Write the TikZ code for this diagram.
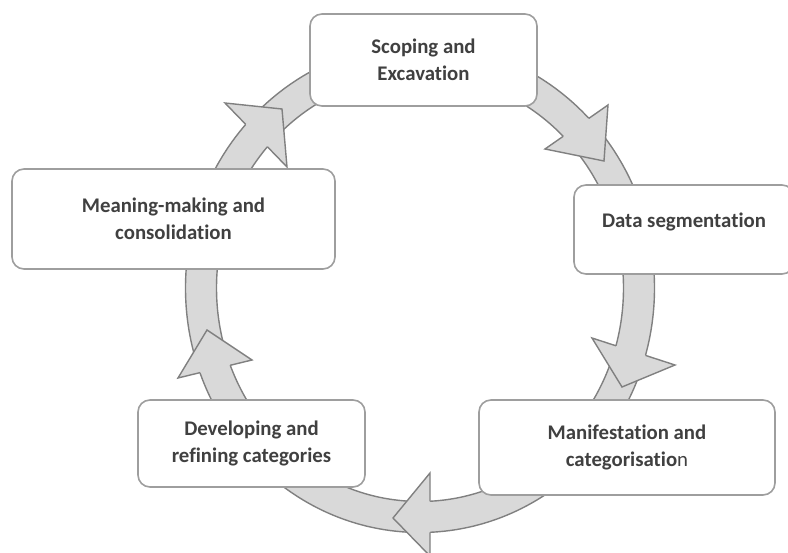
\documentclass[tikz,border=0pt]{standalone}
\usepackage{fontspec}
\setmainfont{Carlito}[Ligatures=NoCommon]
\usetikzlibrary{intersections}

\colorlet{ringfill}{black!15}
\colorlet{ringline}{black!50}
\colorlet{boxline}{black!38}
\colorlet{txt}{black!75}

\tikzset{
    stage/.style={draw=boxline, line width=1.6pt, fill=white, rounded corners=12pt,
        align=center, inner sep=0pt, text=txt,
        font=\fontsize{20.8}{27.5}\selectfont\bfseries},
    ringedge/.style={draw=ringline, line width=1.4pt},
}

\begin{document}
\begin{tikzpicture}[x=1pt,y=-1pt]
    \useasboundingbox (0,0) rectangle (788,553);

    % Anillo
    \coordinate (c) at (420,288);
    \path[name path=outer] (c) ellipse [x radius=234.5pt, y radius=244.5pt];
    \path[name path=inner] (c) ellipse [x radius=203.5pt, y radius=213.5pt];
    \fill[ringfill, ringedge, even odd rule] (c) ellipse [x radius=234.5pt, y radius=244.5pt]
        (c) ellipse [x radius=203.5pt, y radius=213.5pt];

    % Puntas de flecha: esquina exterior / punta / esquina interior
    \foreach \ox/\oy/\tx/\ty/\ix/\iy in {225/103/282/109/287/167, 608/105/604/161/545/149,
        675/365/622/387/592/338, 430/556/393/518/430/473, 178/378/207/330/252/360}
    {
        \coordinate (o) at (\ox,\oy);
        \coordinate (t) at (\tx,\ty);
        \coordinate (i) at (\ix,\iy);
        \path[name path=back] (o) -- (i);
        \path[name intersections={of=back and outer, by=no}];
        \path[name intersections={of=back and inner, by=ni}];
        \fill[ringfill] (o) -- (t) -- (i) -- cycle;
        \draw[ringedge, line join=miter] (no) -- (o) -- (t) -- (i) -- (ni);
    }

    % Etapas
    \node[stage, minimum width=227pt, minimum height=92pt] (scoping) at (423.5,60) {Scoping and\\Excavation};
    \node[stage, minimum width=220pt, minimum height=89pt, text height=13.4pt, text depth=18pt] (segment) at (684,229.5) {Data segmentation};
    \node[stage, minimum width=296pt, minimum height=95pt] (manifest) at (627,447.5) {Manifestation and\\categorisatio\textmd{n}};
    \node[stage, minimum width=227pt, minimum height=87pt] (refine) at (251.5,443.5) {Developing and\\refining categories};
    \node[stage, minimum width=323pt, minimum height=100pt] (meaning) at (173.5,219) {Meaning-making and\\consolidation};
\end{tikzpicture}
\end{document}
